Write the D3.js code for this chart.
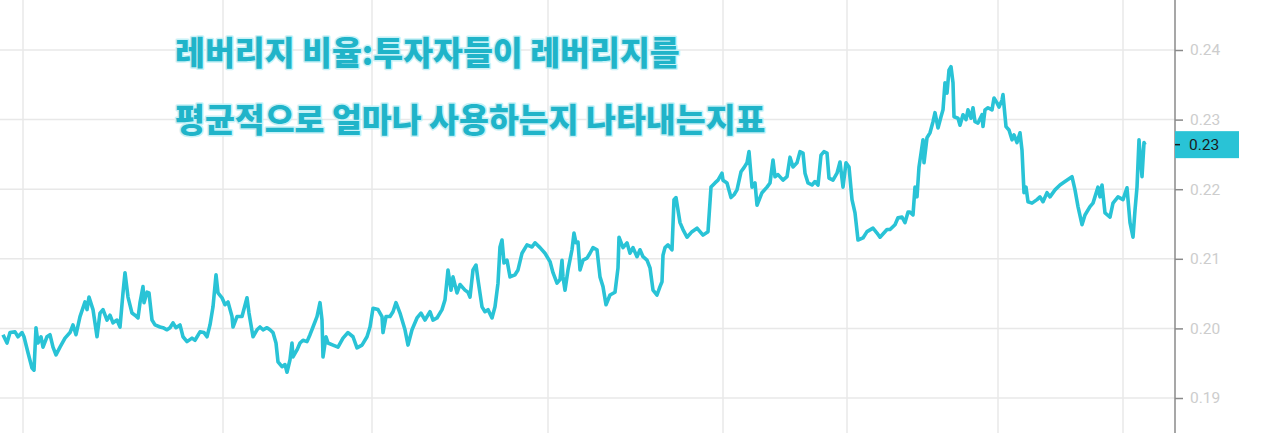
<!DOCTYPE html>
<html><head><meta charset="utf-8">
<script src="https://cdn.jsdelivr.net/npm/d3@7/dist/d3.min.js"></script>
<style>
html,body{margin:0;padding:0;background:#fff;overflow:hidden}
</style></head>
<body>
<svg id="c" width="1279" height="433"></svg>
<script>
// time index of each sample (chart time units)
const times = [3,7,10,15,18,22,24,28,32,34,36,38,41,43,47,50,53,56,60,65,70,73,76,80,85,87,89,93,97,100,103,107,110,113,117,120,123,125,128,132,135,138,140,143,144,147,149,152,155,160,163,167,170,173,176,180,183,187,192,195,200,204,207,210,213,216,218,222,225,228,232,233,237,242,247,249,253,257,260,263,267,270,273,276,278,282,285,287,290,292,293,297,300,303,307,310,313,317,320,322,323,326,328,333,338,343,348,353,357,362,367,370,373,378,382,383,386,390,393,396,400,405,408,412,417,421,425,430,433,437,442,445,448,451,453,457,460,465,468,470,473,476,478,482,485,488,492,495,498,500,502,504,507,510,515,518,522,527,532,535,540,545,550,553,557,560,562,563,565,568,572,574,576,578,580,583,587,590,593,597,600,603,606,610,615,618,619,623,627,630,633,637,640,643,647,650,653,657,660,662,663,665,668,672,674,676,680,683,687,692,697,700,703,708,711,715,718,722,723,727,731,734,737,741,744,747,749,752,755,757,762,767,770,773,775,778,783,787,790,793,797,800,803,805,808,812,815,818,821,824,827,829,833,837,840,843,846,849,852,855,858,863,867,873,877,880,887,890,895,898,902,905,908,910,913,915,917,919,923,924,927,930,933,935,938,941,943,945,947,949,951,953,954,958,960,963,966,968,971,973,975,978,982,983,985,988,992,994,997,999,1002,1003,1006,1009,1012,1014,1017,1020,1022,1024,1026,1028,1032,1037,1040,1043,1047,1050,1055,1060,1065,1072,1075,1078,1082,1085,1090,1093,1098,1100,1102,1105,1110,1113,1118,1123,1127,1130,1133,1135,1137,1139,1142,1144,1145];
// leverage ratio values
const ratio = [0.1991,0.1979,0.1994,0.1995,0.1988,0.1994,0.1988,0.1965,0.1943,0.1940,0.2001,0.1979,0.1988,0.1973,0.1988,0.1991,0.1973,0.1962,0.1973,0.1986,0.1994,0.2005,0.1991,0.2017,0.2038,0.2027,0.2045,0.2027,0.1988,0.2022,0.2027,0.2012,0.2019,0.2008,0.2012,0.2002,0.2051,0.2080,0.2045,0.2022,0.2019,0.2015,0.2037,0.2060,0.2037,0.2052,0.2051,0.2012,0.2005,0.2002,0.2001,0.1998,0.2001,0.2008,0.2001,0.2005,0.1988,0.1981,0.1986,0.1983,0.1995,0.1994,0.1988,0.2005,0.2031,0.2077,0.2051,0.2044,0.2034,0.2038,0.2017,0.2002,0.2017,0.2017,0.2044,0.2022,0.1988,0.1998,0.2002,0.1998,0.2001,0.1998,0.1994,0.1979,0.1952,0.1945,0.1948,0.1937,0.1955,0.1979,0.1959,0.1969,0.1979,0.1983,0.1981,0.1991,0.2002,0.2017,0.2037,0.2012,0.1959,0.1988,0.1979,0.1976,0.1973,0.1986,0.1994,0.1988,0.1972,0.1976,0.1988,0.2002,0.2029,0.2027,0.2017,0.1994,0.2017,0.2017,0.2024,0.2037,0.2022,0.1998,0.1976,0.1998,0.2015,0.2022,0.2012,0.2024,0.2012,0.2015,0.2027,0.2041,0.2084,0.2055,0.2074,0.2051,0.2063,0.2055,0.2052,0.2045,0.2084,0.2091,0.2070,0.2031,0.2024,0.2027,0.2015,0.2031,0.2065,0.2117,0.2127,0.2094,0.2098,0.2074,0.2077,0.2084,0.2108,0.2120,0.2117,0.2123,0.2116,0.2108,0.2096,0.2080,0.2065,0.2070,0.2098,0.2074,0.2055,0.2084,0.2113,0.2137,0.2123,0.2124,0.2084,0.2098,0.2101,0.2108,0.2116,0.2113,0.2074,0.2060,0.2034,0.2048,0.2052,0.2087,0.2131,0.2116,0.2123,0.2108,0.2116,0.2103,0.2113,0.2103,0.2098,0.2087,0.2055,0.2048,0.2060,0.2067,0.2105,0.2116,0.2120,0.2113,0.2185,0.2188,0.2152,0.2142,0.2131,0.2139,0.2144,0.2139,0.2134,0.2139,0.2203,0.2209,0.2213,0.2223,0.2213,0.2209,0.2188,0.2192,0.2199,0.2225,0.2231,0.2238,0.2254,0.2203,0.2209,0.2177,0.2195,0.2203,0.2209,0.2242,0.2218,0.2221,0.2213,0.2218,0.2246,0.2232,0.2238,0.2254,0.2252,0.2223,0.2209,0.2206,0.2211,0.2206,0.2249,0.2254,0.2252,0.2216,0.2213,0.2223,0.2239,0.2203,0.2238,0.2232,0.2185,0.2166,0.2127,0.2130,0.2139,0.2144,0.2137,0.2131,0.2142,0.2142,0.2149,0.2159,0.2160,0.2152,0.2167,0.2167,0.2163,0.2203,0.2189,0.2232,0.2271,0.2238,0.2274,0.2281,0.2297,0.2310,0.2288,0.2304,0.2314,0.2353,0.2338,0.2371,0.2376,0.2353,0.2304,0.2302,0.2292,0.2307,0.2300,0.2314,0.2302,0.2317,0.2297,0.2295,0.2307,0.2290,0.2314,0.2317,0.2314,0.2331,0.2324,0.2318,0.2328,0.2336,0.2290,0.2285,0.2271,0.2278,0.2267,0.2281,0.2256,0.2195,0.2203,0.2182,0.2180,0.2185,0.2189,0.2182,0.2195,0.2189,0.2199,0.2206,0.2211,0.2218,0.2199,0.2175,0.2149,0.2163,0.2175,0.2180,0.2203,0.2189,0.2206,0.2166,0.2160,0.2180,0.2189,0.2185,0.2202,0.2152,0.2131,0.2170,0.2203,0.2271,0.2218,0.2267,0.2264];
const gridTimes = [23,223,372,548,723,847,998,1123];
const yTicks = [0.19,0.20,0.21,0.22,0.23,0.24];
const titleLines = ["레버리지 비율:투자자들이 레버리지를","평균적으로 얼마나 사용하는지 나타내는지표"];

const W = 1279, H = 433, axisX = 1175;
const svg = d3.select("#c");
const x = d3.scaleLinear().domain([0, 1175]).range([0, axisX]);
const y = d3.scaleLinear().domain([0.19, 0.24]).range([398, 50]);

// grid
svg.append("g").selectAll("line").data(gridTimes).join("line")
  .attr("x1", d => x(d)).attr("x2", d => x(d)).attr("y1", 0).attr("y2", H)
  .attr("stroke", "#e8e8e8").attr("stroke-width", 1.5);
svg.append("g").selectAll("line").data(yTicks).join("line")
  .attr("x1", 0).attr("x2", axisX).attr("y1", d => y(d)).attr("y2", d => y(d))
  .attr("stroke", "#e8e8e8").attr("stroke-width", 1.5);

// title
const tg = svg.append("g");
titleLines.forEach((t, i) => {
  tg.append("text").attr("x", 175).attr("y", 65 + i * 67)
    .attr("font-family", "'Noto Sans CJK KR', sans-serif").attr("font-weight", 900)
    .attr("font-size", 32.5).attr("fill", "#20b4c9")
    .attr("stroke", "#c8f2f7").attr("stroke-width", 3).attr("paint-order", "stroke")
    .attr("stroke-linejoin", "round")
    .text(t);
});

// line
const data = times.map((t, i) => ({t, v: ratio[i]}));
svg.append("path").datum(data)
  .attr("fill", "none").attr("stroke", "#29c3d6").attr("stroke-width", 3.6)
  .attr("stroke-linejoin", "round")
  .attr("d", d3.line().x(d => x(d.t)).y(d => y(d.v)));

// right axis
const ax = svg.append("g").attr("transform", `translate(${axisX},0)`)
  .call(d3.axisRight(y).tickValues(yTicks).tickFormat(d3.format(".2f")).tickSize(8).tickPadding(7));
ax.select(".domain").attr("stroke", "#8a8a8a").attr("stroke-width", 1.5).attr("d", `M0,0V${H}`);
ax.selectAll(".tick line").attr("stroke", "#8a8a8a").attr("stroke-width", 1.5);
ax.selectAll(".tick text").attr("fill", "#cdcdcd").attr("font-size", 15.5).attr("font-family", "Roboto, sans-serif");

// last value label
const last = data[data.length - 1];
const ly = y(last.v);
svg.append("rect").attr("x", axisX).attr("y", ly - 13.5).attr("width", 64).attr("height", 27).attr("fill", "#29c3d6");
svg.append("line").attr("x1", axisX).attr("x2", axisX + 5).attr("y1", ly).attr("y2", ly).attr("stroke", "#1a1a1a").attr("stroke-width", 1.5);
svg.append("text").attr("x", axisX + 14).attr("y", ly).attr("dy", "0.35em")
  .attr("font-family", "Roboto, sans-serif").attr("font-size", 15.5).attr("fill", "#1b1b1b")
  .text(d3.format(".2f")(last.v));
</script>
</body></html>
